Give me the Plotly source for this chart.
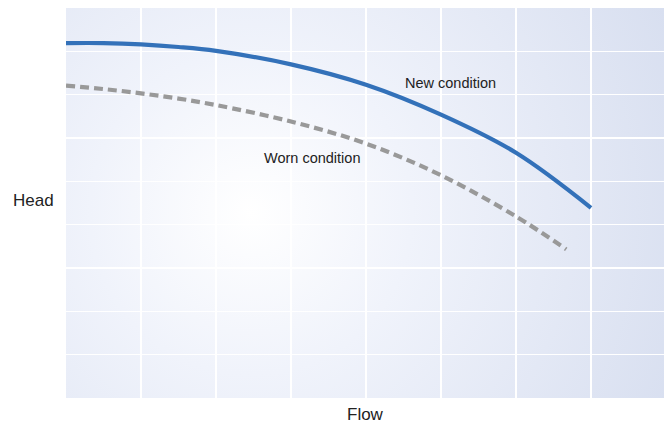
import base64
import plotly.graph_objects as go

# Data
flow_new = [0, 0.5, 1, 1.5, 2, 3, 4, 5, 6, 7]
head_new = [8.19, 8.19, 8.16, 8.10, 8.01, 7.70, 7.23, 6.54, 5.66, 4.39]

flow_worn = [0, 0.5, 1, 1.5, 2, 3, 4, 5, 6, 6.67]
head_worn = [7.21, 7.13, 7.03, 6.91, 6.76, 6.38, 5.87, 5.14, 4.19, 3.43]

label_new = "New condition"
label_worn = "Worn condition"
x_title = "Flow"
y_title = "Head"

FONT = "Liberation Sans, Arial, Helvetica, sans-serif"

svg = (
    '<svg xmlns="http://www.w3.org/2000/svg" width="598" height="390" '
    'viewBox="0 0 598 390" preserveAspectRatio="none">'
    '<defs><radialGradient id="g" gradientUnits="userSpaceOnUse" '
    'cx="185" cy="205" r="460" fx="185" fy="205">'
    '<stop offset="0" stop-color="#ffffff"/>'
    '<stop offset="0.35" stop-color="#f0f3fb"/>'
    '<stop offset="1" stop-color="#d8dff0"/>'
    '</radialGradient></defs>'
    '<rect x="0" y="0" width="598" height="390" fill="url(#g)"/></svg>'
)
bg_src = "data:image/svg+xml;base64," + base64.b64encode(svg.encode()).decode()

fig = go.Figure()
fig.add_trace(go.Scatter(
    x=flow_new, y=head_new, mode="lines", name=label_new,
    line=dict(color="#3371b9", width=4.2, shape="spline", smoothing=1.0),
    hoverinfo="skip",
))
fig.add_trace(go.Scatter(
    x=flow_worn, y=head_worn, mode="lines", name=label_worn,
    line=dict(color="#999999", width=4.2, shape="spline", smoothing=1.0, dash="9px,5px"),
    hoverinfo="skip",
))

fig.add_annotation(x=5.12, y=7.26, text=label_new, showarrow=False,
                   font=dict(family=FONT, size=14.5, color="#222222"))
fig.add_annotation(x=3.28, y=5.54, text=label_worn, showarrow=False,
                   font=dict(family=FONT, size=14.5, color="#222222"))
fig.add_annotation(x=-33 / 598, y=(398 - 200) / 390, xref="paper", yref="paper",
                   text=y_title, showarrow=False, xanchor="center", yanchor="middle",
                   font=dict(family=FONT, size=17, color="#222222"))
fig.add_annotation(x=(365 - 66) / 598, y=-(414 - 398) / 390, xref="paper", yref="paper",
                   text=x_title, showarrow=False, xanchor="center", yanchor="middle",
                   font=dict(family=FONT, size=17, color="#222222"))

fig.update_layout(
    width=664, height=427,
    margin=dict(l=66, r=0, t=8, b=29),
    paper_bgcolor="white",
    plot_bgcolor="rgba(0,0,0,0)",
    showlegend=False,
    images=[dict(source=bg_src, xref="paper", yref="paper", x=0, y=1,
                 sizex=1, sizey=1, sizing="stretch", layer="below",
                 xanchor="left", yanchor="top")],
    xaxis=dict(range=[0, 598 / 75], dtick=1, tick0=0, showticklabels=False,
               showgrid=True, gridcolor="white", gridwidth=1.5, zeroline=False,
               showline=False, ticks="", fixedrange=True),
    yaxis=dict(range=[0, 9], dtick=1, tick0=0, showticklabels=False,
               showgrid=True, gridcolor="white", gridwidth=1.5, zeroline=False,
               showline=False, ticks="", fixedrange=True),
)

fig.write_html("out.html",
               config={"displayModeBar": False, "staticPlot": True},
               post_script="document.body.style.margin='0';document.body.style.overflow='hidden';")
